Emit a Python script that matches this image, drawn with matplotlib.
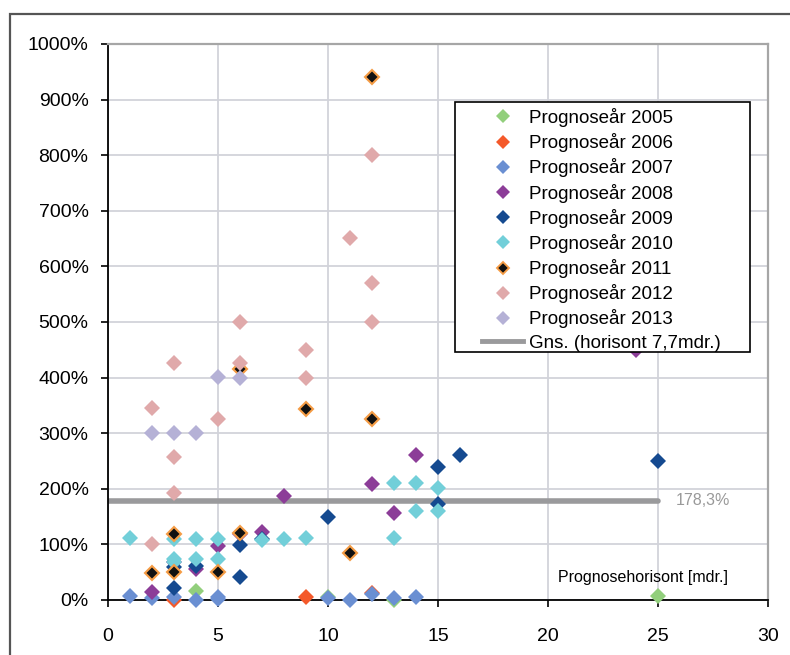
#!/usr/bin/env python
"""Prognosis error vs. forecast horizon, one diamond series per forecast year."""
import matplotlib

matplotlib.use("Agg")
import matplotlib.pyplot as plt
from matplotlib.lines import Line2D
from matplotlib.patches import Rectangle

plt.rcParams["font.family"] = ["Liberation Sans", "DejaVu Sans"]

# horizon [months] and error [%] per forecast year
x_2005 = [4, 10, 13, 25]
y_2005 = [17, 6, 0, 8]
x_2006 = [3, 9, 12]
y_2006 = [0, 5, 13]
x_2007 = [1, 2, 3, 4, 5, 5, 10, 11, 12, 13, 14]
y_2007 = [8, 4, 5, 0, 1, 5, 4, 0, 10, 4, 5]
x_2008 = [2, 3, 4, 5, 6, 7, 8, 12, 13, 14, 24]
y_2008 = [15, 68, 55, 97, 118, 122, 187, 209, 157, 261, 450]
x_2009 = [3, 3, 4, 6, 6, 7, 10, 15, 15, 16, 25]
y_2009 = [22, 60, 62, 99, 41, 110, 150, 240, 172, 261, 250]
x_2010 = [1, 3, 3, 3, 4, 4, 5, 5, 7, 8, 9, 13, 13, 14, 14, 15, 15]
y_2010 = [111, 110, 74, 68, 110, 74, 110, 74, 108, 110, 111, 111, 210, 210, 160, 201, 160]
x_2011 = [2, 3, 3, 5, 6, 6, 9, 11, 12, 12]
y_2011 = [49, 119, 50, 50, 120, 416, 343, 84, 325, 940]
x_2012 = [2, 2, 3, 3, 3, 5, 6, 6, 9, 9, 11, 12, 12, 12]
y_2012 = [345, 101, 426, 257, 193, 325, 500, 426, 450, 400, 651, 800, 570, 500]
x_2013 = [2, 3, 4, 5, 6]
y_2013 = [300, 300, 300, 401, 400]

avg_value = 178.3
avg_span = [0, 25]

series = [
    ("Prognoseår 2005", x_2005, y_2005, "#92cf7c", "#92cf7c"),
    ("Prognoseår 2006", x_2006, y_2006, "#f4592a", "#f4592a"),
    ("Prognoseår 2007", x_2007, y_2007, "#6a8fd2", "#6a8fd2"),
    ("Prognoseår 2008", x_2008, y_2008, "#8c3d98", "#8c3d98"),
    ("Prognoseår 2009", x_2009, y_2009, "#154a90", "#154a90"),
    ("Prognoseår 2010", x_2010, y_2010, "#72cfd9", "#72cfd9"),
    ("Prognoseår 2011", x_2011, y_2011, "#111111", "#f59c45"),
    ("Prognoseår 2012", x_2012, y_2012, "#e0a9aa", "#e0a9aa"),
    ("Prognoseår 2013", x_2013, y_2013, "#b5b1d6", "#b5b1d6"),
]

W, H = 790, 655
fig = plt.figure(figsize=(W / 100, H / 100), dpi=100)
ax = fig.add_axes([108 / W, 55 / H, 660 / W, 556 / H])


def ax_xy(px, py):
    """Pixel position -> axes fraction."""
    return (px - 108) / 660, (600 - py) / 556


# outer chart frame
fig.patches.append(Rectangle((10 / W, -0.2), 1.2, 0.2 + 641 / H,
                             transform=fig.transFigure, fill=False,
                             edgecolor="#555555", linewidth=1.6))

ax.set_xlim(0, 30)
ax.set_ylim(0, 1000)
ax.set_xticks(range(0, 31, 5))
ax.set_yticks(range(0, 1001, 100))
ax.set_yticklabels([f"{v}%" for v in range(0, 1001, 100)])
ax.tick_params(axis="both", direction="out", length=5, width=1.2,
               labelsize=14, colors="black")
ax.tick_params(axis="x", pad=15)
ax.tick_params(axis="y", pad=9)
ax.grid(color="#d2d3da", linewidth=1.3)
ax.set_axisbelow(True)
for side in ("top", "right"):
    ax.spines[side].set_color("#a6a6a6")
    ax.spines[side].set_linewidth(1.6)
for side in ("left", "bottom"):
    ax.spines[side].set_color("black")
    ax.spines[side].set_linewidth(1.3)

handles = []
for label, xs, ys, face, edge in series:
    outlined = face != edge
    ew = 1.5 if outlined else 0.0
    ms = 7.2 if outlined else 8.5
    ax.plot(xs, ys, linestyle="none", marker="D", markersize=ms,
            markerfacecolor=face, markeredgecolor=edge, markeredgewidth=ew,
            clip_on=False, zorder=3)
    handles.append(Line2D([], [], linestyle="none", marker="D",
                          markersize=ms - 1.2,
                          markerfacecolor=face, markeredgecolor=edge,
                          markeredgewidth=ew * 0.9, label=label))

ax.plot(avg_span, [avg_value, avg_value], color="#9a9a9c", linewidth=4,
        solid_capstyle="round", zorder=2)
handles.append(Line2D([], [], color="#9a9a9c", linewidth=3.5,
                      label="Gns. (horisont 7,7mdr.)"))

ax.text(27.05, avg_value, f"{avg_value:.1f}%".replace(".", ","),
        color="#999999", fontsize=11.5, ha="center", va="center")
ax.text(24.3, 40, "Prognosehorisont [mdr.]", fontsize=11.5,
        ha="center", va="center")

# legend box drawn separately so its padding can be set per side
bx0, by0 = ax_xy(455, 352)
bx1, by1 = ax_xy(750, 102)
ax.add_patch(Rectangle((bx0, by0), bx1 - bx0, by1 - by0, transform=ax.transAxes,
                       facecolor="white", edgecolor="black", linewidth=1.2,
                       zorder=4, clip_on=False))
leg = ax.legend(handles=handles, loc="upper left",
                bbox_to_anchor=ax_xy(482, 108),
                fontsize=13.5, frameon=False,
                handlelength=2.2, handletextpad=0.3, labelspacing=0.33,
                borderpad=0.0, borderaxespad=0.0)
leg.set_zorder(5)

fig.savefig("out.png", dpi=100)
